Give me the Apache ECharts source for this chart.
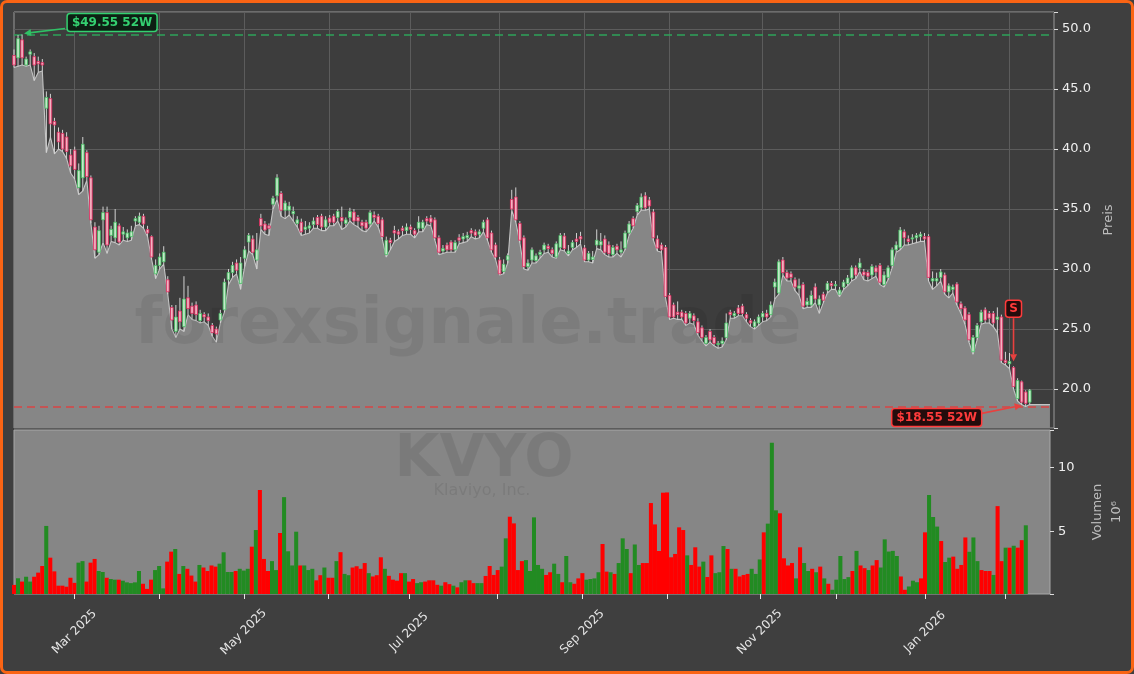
<!DOCTYPE html>
<html>
<head>
<meta charset="utf-8">
<title>KVYO</title>
<script src="https://cdn.jsdelivr.net/npm/echarts@6/dist/echarts.min.js"></script>
<style>
  html, body { margin: 0; padding: 0; background: #3f3f3f; }
  #chart { position: absolute; left: 0; top: 0; width: 1134px; height: 674px; }
  #frame { position: absolute; left: 0; top: 0; width: 1134px; height: 674px; box-sizing: border-box;
           border: 3px solid #fa6414; border-radius: 7px; pointer-events: none; }
</style>
</head>
<body>
<div id="chart"></div>
<div id="frame"></div>
<script>
// trading calendar
var startDate = '2025-02-07';
var holidays = ['2025-02-17', '2025-04-18', '2025-05-26', '2025-06-19', '2025-07-04',
  '2025-09-01', '2025-11-27', '2025-12-25', '2026-01-01', '2026-01-19'];
var monthNames = ['Jan', 'Feb', 'Mar', 'Apr', 'May', 'Jun', 'Jul', 'Aug', 'Sep', 'Oct', 'Nov', 'Dec'];

// daily prices (USD)
var opens = [
  47.8, 47.6, 49.1, 47.0, 47.9, 47.7, 47.3, 47.2, 43.4, 44.2,
  42.3, 41.4, 41.3, 41.0, 39.5, 39.9, 36.8, 37.6, 39.7, 37.6,
  33.5, 31.4, 34.1, 34.7, 32.8, 32.6, 33.6, 32.9, 32.6, 32.7,
  34.0, 33.9, 34.4, 33.3, 32.7, 29.6, 30.3, 30.6, 29.1, 26.8,
  24.8, 26.5, 25.2, 27.6, 26.9, 27.0, 25.7, 26.2, 26.0, 25.3,
  25.0, 25.75, 26.6, 29.1, 29.7, 30.5, 28.8, 30.9, 32.25, 32.5,
  30.75, 34.2, 33.75, 33.6, 35.4, 36.1, 36.3, 34.9, 34.9, 34.6,
  33.8, 33.9, 33.3, 33.4, 33.7, 34.3, 34.4, 33.5, 34.25, 34.4,
  34.3, 34.3, 33.8, 34.3, 34.75, 34.3, 33.9, 33.9, 33.75, 34.5,
  34.4, 34.1, 31.2, 32.4, 33.2, 33.1, 33.4, 33.2, 33.5, 33.2,
  33.4, 33.4, 34.2, 34.25, 34.1, 32.6, 31.5, 32.0, 32.25, 31.6,
  32.6, 32.5, 32.6, 33.2, 33.1, 32.9, 33.4, 34.1, 33.0, 32.0,
  30.75, 29.8, 30.75, 35.8, 36.0, 33.8, 32.6, 30.2, 30.75, 30.7,
  31.2, 31.6, 31.9, 31.6, 31.0, 31.8, 32.75, 31.3, 31.8, 32.5,
  32.7, 31.75, 30.75, 30.8, 32.0, 32.0, 32.5, 32.0, 31.2, 31.9,
  31.4, 31.75, 33.0, 34.2, 34.8, 35.1, 36.1, 35.75, 34.75, 32.5,
  32.0, 31.8, 27.8, 27.0, 26.4, 26.4, 26.3, 25.9, 26.1, 25.6,
  25.1, 23.8, 24.8, 24.3, 23.7, 23.8, 24.3, 26.4, 26.1, 26.75,
  26.9, 26.2, 25.7, 25.2, 25.5, 26.0, 26.3, 26.2, 28.5, 28.0,
  30.75, 29.7, 29.6, 29.1, 28.4, 28.7, 27.0, 27.0, 28.5, 27.0,
  27.9, 28.25, 28.8, 28.6, 27.9, 28.5, 28.8, 29.25, 30.1, 30.1,
  29.75, 29.7, 29.5, 30.1, 30.3, 28.7, 29.3, 30.3, 31.6, 31.8,
  33.1, 32.5, 32.5, 32.6, 32.7, 32.7, 32.7, 29.0, 29.0, 29.3,
  29.5, 28.1, 28.3, 28.75, 27.1, 26.75, 26.2, 23.1, 24.3, 25.6,
  26.6, 26.3, 26.3, 25.8, 26.0, 22.4, 22.1, 21.8, 19.2, 20.6,
  19.75, 18.9
];
var closes = [
  47.0, 49.2, 47.6, 47.5, 48.1, 47.0, 47.1, 47.0, 44.3, 42.1,
  42.0, 40.6, 40.0, 39.8, 38.6, 38.3, 38.2, 40.4, 37.7, 34.1,
  31.6, 33.2, 34.7, 32.0, 33.3, 33.9, 32.25, 33.1, 33.0, 33.1,
  34.2, 34.4, 33.75, 33.0, 31.0, 30.3, 31.0, 31.4, 28.1, 25.75,
  26.0, 25.6, 27.5, 26.7, 26.3, 26.2, 26.3, 26.0, 25.7, 24.7,
  24.6, 26.3, 28.9, 29.7, 30.3, 29.9, 30.5, 31.6, 32.8, 31.4,
  31.6, 33.6, 33.25, 33.4, 35.9, 37.6, 34.9, 35.5, 35.25, 34.8,
  34.1, 33.1, 33.5, 33.6, 34.0, 33.7, 33.5, 34.1, 33.9, 33.9,
  34.8, 34.0, 34.1, 34.8, 34.0, 34.0, 33.6, 33.4, 34.7, 34.3,
  33.8, 32.7, 32.4, 32.2, 33.0, 32.9, 33.2, 33.5, 33.3, 32.9,
  33.9, 33.9, 34.0, 33.9, 32.6, 31.4, 31.7, 31.6, 31.6, 32.2,
  32.4, 32.7, 32.8, 33.0, 32.8, 33.1, 33.9, 32.6, 31.6, 31.0,
  29.6, 30.4, 31.1, 35.0, 34.1, 32.4, 30.2, 30.5, 31.6, 31.1,
  31.4, 32.0, 31.7, 31.3, 32.1, 32.8, 31.7, 31.5, 32.2, 32.3,
  32.5, 30.75, 31.3, 31.0, 32.4, 32.3, 31.4, 31.3, 31.8, 31.6,
  31.6, 33.0, 33.75, 33.6, 35.3, 36.0, 35.1, 35.25, 32.6, 31.75,
  31.6, 27.7, 26.0, 26.0, 26.2, 26.0, 25.5, 26.3, 25.7, 24.7,
  24.3, 24.3, 24.1, 23.8, 23.8, 24.0, 25.5, 26.2, 26.3, 26.3,
  26.3, 25.9, 25.5, 25.6, 26.0, 26.3, 26.0, 27.0, 28.9, 30.6,
  29.7, 29.25, 29.3, 28.5, 28.6, 26.9, 27.3, 27.8, 27.5, 27.5,
  27.4, 28.8, 28.6, 28.7, 28.25, 28.9, 29.25, 30.1, 29.5, 30.5,
  29.5, 29.4, 30.2, 29.75, 28.9, 29.5, 30.1, 31.6, 32.0, 33.25,
  32.6, 32.3, 32.6, 32.8, 32.9, 32.5, 29.3, 29.2, 29.2, 29.75,
  28.1, 28.6, 28.5, 27.25, 26.7, 25.75, 24.1, 24.3, 25.3, 26.4,
  25.75, 25.9, 25.5, 26.0, 22.4, 22.2, 22.3, 20.2, 20.7, 18.9,
  18.8, 19.9
];
var lows = [
  46.8, 46.9, 47.0, 46.9, 47.0, 45.7, 46.4, 46.5, 39.7, 41.0,
  39.6, 40.0, 39.8, 39.2, 38.0, 37.5, 36.2, 36.5, 37.4, 33.8,
  30.9, 31.2, 32.2, 31.3, 32.3, 32.2, 32.0, 32.4, 32.3, 32.4,
  33.6, 33.7, 33.4, 32.7, 30.8, 29.2, 30.0, 30.4, 27.9, 25.0,
  24.3, 25.0, 24.8, 26.2, 25.8, 25.7, 25.5, 25.6, 25.3, 24.4,
  23.9, 25.5, 26.4, 28.7, 29.3, 29.6, 28.3, 30.2, 31.5, 31.2,
  30.0, 33.3, 32.9, 32.8, 35.0, 35.8, 34.4, 34.2, 34.5, 34.0,
  33.5, 32.8, 32.9, 33.0, 33.4, 33.4, 33.2, 33.2, 33.6, 33.6,
  34.0, 33.3, 33.5, 34.0, 33.7, 33.5, 33.2, 33.1, 33.5, 34.0,
  33.5, 32.5, 31.0, 31.6, 32.3, 32.5, 32.8, 32.9, 32.9, 32.6,
  33.1, 33.1, 33.7, 33.6, 32.4, 31.2, 31.3, 31.4, 31.4, 31.4,
  32.1, 32.2, 32.3, 32.7, 32.5, 32.6, 33.1, 32.4, 31.4, 30.8,
  29.5, 29.6, 30.5, 34.9, 33.9, 32.2, 30.0, 29.9, 30.5, 30.5,
  30.9, 31.3, 31.4, 31.0, 30.9, 31.6, 31.5, 31.1, 31.6, 31.8,
  32.1, 30.6, 30.6, 30.5, 31.7, 31.6, 31.2, 31.0, 31.0, 31.3,
  31.0, 31.6, 32.8, 33.4, 34.5, 34.9, 34.9, 35.0, 32.4, 31.5,
  31.4, 27.6, 25.8, 25.9, 25.8, 25.8, 25.3, 25.5, 25.4, 24.5,
  24.0, 23.6, 23.9, 23.6, 23.4, 23.5, 24.1, 25.9, 25.9, 26.1,
  26.1, 25.6, 25.2, 25.0, 25.3, 25.6, 25.7, 26.0, 27.5, 27.9,
  29.5, 29.0, 29.0, 28.2, 27.8, 26.7, 26.8, 26.8, 27.2, 26.3,
  27.2, 28.0, 28.3, 28.3, 27.7, 28.3, 28.6, 29.0, 29.2, 29.8,
  29.1, 29.0, 29.2, 29.4, 28.7, 28.5, 29.1, 30.1, 31.4, 31.6,
  32.0, 32.0, 32.1, 32.2, 32.3, 32.3, 29.0, 28.3, 28.6, 29.0,
  27.9, 27.6, 28.0, 27.0, 26.3, 25.4, 23.9, 22.9, 24.1, 25.4,
  25.5, 25.5, 25.2, 24.7, 22.2, 22.0, 21.7, 20.0, 19.0, 18.7,
  18.55, 18.7
];
var highs = [
  48.3, 49.5, 49.55, 47.7, 48.3, 48.0, 47.7, 47.5, 44.8, 44.6,
  42.6, 41.8, 41.6, 41.4, 40.0, 40.2, 38.8, 41.0, 39.9, 37.8,
  33.9, 33.6, 35.2, 35.2, 33.6, 35.0, 33.8, 33.5, 33.3, 33.6,
  34.4, 34.7, 34.6, 33.6, 32.8, 30.8, 31.3, 31.9, 29.4, 27.0,
  27.0, 27.6, 29.4, 28.6, 27.2, 27.3, 26.6, 26.4, 26.3, 25.5,
  25.2, 26.6, 29.2, 30.0, 30.6, 30.8, 31.0, 31.9, 33.0, 32.8,
  33.0, 34.6, 34.0, 33.8, 36.1, 37.9, 36.5, 35.7, 35.6, 35.2,
  34.4, 34.2, 34.0, 33.9, 34.3, 34.5, 34.6, 34.4, 34.5, 34.6,
  35.0, 35.2, 34.3, 35.1, 35.0, 34.5, 34.1, 34.1, 34.9, 34.8,
  34.6, 34.3, 32.7, 32.6, 33.6, 33.3, 33.6, 33.8, 33.7, 33.4,
  34.4, 34.1, 34.4, 34.5, 34.3, 32.8, 32.0, 32.2, 32.4, 32.4,
  32.9, 33.0, 33.1, 33.4, 33.3, 33.3, 34.1, 34.3, 33.2, 32.2,
  31.0, 30.8, 31.3, 36.6, 36.8, 34.0, 32.8, 30.8, 31.8, 31.3,
  31.6, 32.2, 32.1, 31.8, 32.3, 33.0, 33.0, 32.0, 32.4, 33.0,
  33.1, 32.0, 31.5, 31.5, 33.3, 33.0, 32.8, 32.3, 32.0, 32.1,
  32.3, 33.2, 34.0, 34.4, 35.5, 36.3, 36.4, 36.0, 35.0, 32.8,
  32.2, 32.0, 28.0, 27.2, 27.3, 26.6, 26.5, 26.5, 26.3, 25.9,
  25.3, 24.5, 25.0, 24.5, 24.0, 24.3, 26.3, 26.6, 26.5, 27.0,
  27.1, 26.4, 25.9, 25.8, 26.2, 26.5, 26.6, 27.3, 29.2, 30.8,
  31.0, 29.9, 29.8, 29.3, 29.2, 28.9, 27.6, 28.2, 28.8, 27.8,
  28.1, 29.0, 29.0, 29.0, 28.5, 29.1, 29.5, 30.3, 30.3, 30.9,
  30.0, 29.9, 30.4, 30.3, 30.5, 29.8, 30.3, 31.8, 32.3, 33.5,
  33.3, 32.8, 32.9, 33.0, 33.1, 33.0, 32.9, 29.8, 29.7, 30.0,
  29.7, 28.8, 28.7, 28.9, 27.3, 26.9, 26.4, 24.5, 25.5, 26.6,
  26.8, 26.5, 26.5, 26.8, 26.2, 23.1, 23.0, 21.9, 20.9, 20.7,
  19.9, 20.0
];
// daily volume, millions of shares
var volumes = [
  0.84, 1.36, 1.1, 1.48, 1.1, 1.48, 1.8, 2.32, 5.45, 2.97,
  1.9, 0.78, 0.78, 0.7, 1.4, 1.0, 2.58, 2.7, 1.1, 2.58,
  2.87, 1.93, 1.85, 1.4, 1.3, 1.25, 1.25, 1.17, 1.04, 0.98,
  1.04, 1.93, 0.93, 0.53, 1.25, 2.0, 2.32, 0.57, 2.66, 3.44,
  3.65, 1.7, 2.32, 2.1, 1.57, 1.1, 2.4, 2.2, 1.93, 2.36,
  2.27, 2.5, 3.39, 1.85, 1.85, 1.93, 2.1, 1.96, 2.1, 3.83,
  5.13, 8.26, 2.87, 1.93, 2.7, 2.0, 4.9, 7.7, 3.47, 2.36,
  5.0, 2.36, 2.36, 2.0, 2.1, 1.2, 1.6, 2.2, 1.4, 1.4,
  2.7, 3.4, 1.7, 1.6, 2.2, 2.3, 2.1, 2.55, 1.76, 1.5,
  1.6, 3.0, 2.1, 1.55, 1.25, 1.17, 1.76, 1.76, 1.1, 1.3,
  0.98, 1.05, 1.1, 1.2, 1.2, 0.85, 0.78, 1.05, 0.9, 0.78,
  0.65, 1.05, 1.2, 1.2, 0.98, 0.98, 0.98, 1.54, 2.32, 1.62,
  2.0, 2.27, 4.48, 6.17, 5.65, 2.0, 2.7, 2.78, 1.93, 6.12,
  2.4, 2.1, 1.62, 1.83, 2.5, 1.7, 1.05, 3.1, 1.05, 0.93,
  1.35, 1.76, 1.25, 1.3, 1.35, 1.83, 4.04, 1.88, 1.83, 1.7,
  2.55, 4.48, 3.65, 1.76, 4.0, 2.4, 2.55, 2.55, 7.24, 5.57,
  3.49, 8.05, 8.07, 3.0, 3.26, 5.34, 5.13, 3.15, 2.4, 3.78,
  2.27, 2.66, 1.46, 3.15, 1.76, 1.83, 3.88, 3.65, 2.1, 2.1,
  1.5, 1.62, 1.7, 2.1, 1.7, 2.83, 4.95, 5.63, 11.95, 6.67,
  6.44, 2.92, 2.36, 2.55, 1.35, 3.78, 2.55, 1.93, 2.1, 1.83,
  2.27, 1.35, 0.93, 0.46, 1.25, 3.1, 1.3, 1.45, 1.93, 3.5,
  2.36, 2.15, 2.0, 2.36, 2.78, 2.2, 4.4, 3.45, 3.5, 3.1,
  1.5, 0.46, 0.72, 1.17, 1.05, 1.35, 4.95, 7.87, 6.15, 5.4,
  4.27, 2.63, 2.97, 3.05, 2.1, 2.4, 4.55, 3.43, 4.55, 2.7,
  2.0, 1.93, 1.93, 1.62, 7.0, 2.7, 3.75, 3.75, 3.9, 3.75,
  4.34, 5.5
];
var sellSignalIdx = 247;
var padSlots = 6;   // empty room after the last session

function tradingDays(start, n) {
  var out = [];
  var d = new Date(start + 'T00:00:00Z');
  while (out.length < n) {
    var s = d.toISOString().slice(0, 10);
    var wd = d.getUTCDay();
    if (wd !== 0 && wd !== 6 && holidays.indexOf(s) < 0) out.push(s);
    d.setUTCDate(d.getUTCDate() + 1);
  }
  return out;
}

var n = closes.length;
var dates = tradingDays(startDate, n);
var cats = dates.slice();
for (var p = 0; p < padSlots; p++) cats.push('pad' + p);

var monthStart = cats.map(function (c, i) {
  return i > 0 && i < n && dates[i].slice(0, 7) !== dates[i - 1].slice(0, 7);
});
function isMonthStart(idx) { return !!monthStart[idx]; }
// labels only every second month (Mar, May, Jul, ...)
function isLabelMonth(idx) { return !!monthStart[idx] && (+dates[idx].slice(5, 7)) % 2 === 1; }
function monthLabel(v) {
  if (v.indexOf('pad') === 0) return '';
  return monthNames[+v.slice(5, 7) - 1] + ' ' + v.slice(0, 4);
}

var candleData = closes.map(function (c, i) { return [i, opens[i], c, lows[i], highs[i]]; });
// the shaded low band runs a little past the last session, then stops
var areaData = lows.slice();
for (var q = 0; q < padSlots - 1; q++) areaData.push(lows[n - 1]);
areaData.push('-');
var volData = volumes.map(function (v, i) {
  return { value: v, itemStyle: { color: closes[i] >= opens[i] ? '#228b22' : '#ff0000' } };
});

var hi52 = Math.max.apply(null, highs), hiIdx = highs.indexOf(hi52);
var lo52 = Math.min.apply(null, lows), loIdx = lows.indexOf(lo52);

var FONT = '"DejaVu Sans", sans-serif';

function renderCandle(params, api) {
  var i = api.value(0), o = api.value(1), c = api.value(2), l = api.value(3), h = api.value(4);
  var pO = api.coord([i, o]), pC = api.coord([i, c]);
  var pL = api.coord([i, l]), pH = api.coord([i, h]);
  var w = api.size([1, 0])[0] * 0.66;
  var up = c >= o;
  var top = Math.min(pO[1], pC[1]), bot = Math.max(pO[1], pC[1]);
  return {
    type: 'group',
    children: [
      { type: 'line', shape: { x1: pH[0], y1: pH[1], x2: pL[0], y2: pL[1] },
        style: { stroke: '#d2d2d2', lineWidth: 1 } },
      { type: 'rect', shape: { x: pO[0] - w / 2, y: top, width: w, height: Math.max(bot - top, 1) },
        style: { fill: up ? '#c4e9ca' : '#f3b3c2', stroke: up ? '#44c062' : '#e0245a', lineWidth: 0.8 } }
    ]
  };
}

var chart = echarts.init(document.getElementById('chart'));

var option = {
  animation: false,
  backgroundColor: '#3f3f3f',
  textStyle: { fontFamily: FONT },
  grid: [
    { left: 14, right: 80, top: 12, height: 416, show: true,
      backgroundColor: '#3d3d3d', borderColor: '#9a9a9a', borderWidth: 1 },
    { left: 14, right: 80, top: 430, height: 164, show: true,
      backgroundColor: '#868686', borderColor: '#a8a8a8', borderWidth: 1 }
  ],
  xAxis: [
    { type: 'category', gridIndex: 0, data: cats, boundaryGap: false,
      axisLine: { show: false }, axisTick: { show: false }, axisLabel: { show: false },
      splitLine: { show: true, interval: isMonthStart, lineStyle: { color: '#5c5c5c', width: 1 } } },
    { type: 'category', gridIndex: 1, data: cats, boundaryGap: false,
      axisLine: { show: false },
      axisTick: { show: true, interval: isMonthStart, length: 5, lineStyle: { color: '#e6e6e6' } },
      axisLabel: { interval: isLabelMonth, rotate: 45, color: '#e6e6e6', fontSize: 12,
        fontFamily: FONT, margin: 38, align: 'center', verticalAlign: 'middle', formatter: monthLabel },
      splitLine: { show: false } }
  ],
  yAxis: [
    { type: 'value', gridIndex: 0, position: 'right', min: 16.75, max: 51.42,
      splitNumber: 7, minInterval: 5, maxInterval: 5,
      axisLine: { show: false },
      axisTick: { show: true, length: 4, lineStyle: { color: '#dddddd' } },
      axisLabel: { color: '#eeeeee', fontSize: 13, fontFamily: FONT, margin: 8,
        formatter: function (v) { return Math.abs(v / 5 - Math.round(v / 5)) < 1e-6 ? v.toFixed(1) : ''; } },
      splitLine: { show: true, lineStyle: { color: '#5c5c5c', width: 1 } },
      name: 'Preis', nameLocation: 'middle', nameRotate: 90, nameGap: 46,
      nameTextStyle: { color: '#bdbdbd', fontSize: 13, fontFamily: FONT } },
    { type: 'value', gridIndex: 1, position: 'right', min: 0.13, max: 12.95,
      splitNumber: 3, minInterval: 5, maxInterval: 5,
      axisLine: { show: false },
      axisTick: { show: true, length: 4, lineStyle: { color: '#dddddd' } },
      axisLabel: { color: '#eeeeee', fontSize: 13, fontFamily: FONT, margin: 8,
        formatter: function (v) { return Math.abs(v / 5 - Math.round(v / 5)) < 1e-6 ? String(Math.round(v)) : ''; } },
      splitLine: { show: false },
      name: 'Volumen\n10⁶', nameLocation: 'middle', nameRotate: 90, nameGap: 38,
      nameTextStyle: { color: '#bdbdbd', fontSize: 13, fontFamily: FONT, lineHeight: 19 } }
  ],
  series: [
    { name: 'lows', type: 'line', xAxisIndex: 0, yAxisIndex: 0, data: areaData,
      symbol: 'none', z: 2,
      lineStyle: { color: '#c4c4c4', width: 1.1 },
      areaStyle: { color: '#868686', opacity: 1, origin: 'start' },
      markLine: {
        silent: true, symbol: ['none', 'none'], label: { show: false },
        data: [
          { yAxis: hi52, lineStyle: { color: '#2ea35a', type: [8, 5], width: 1.5 } },
          { yAxis: lo52, lineStyle: { color: '#d94444', type: [8, 5], width: 1.5 } }
        ]
      } },
    { name: 'ohlc', type: 'custom', xAxisIndex: 0, yAxisIndex: 0, z: 5,
      data: candleData, encode: { x: 0, y: [1, 2, 3, 4] }, renderItem: renderCandle },
    { name: 'volume', type: 'bar', xAxisIndex: 1, yAxisIndex: 1, data: volData,
      barWidth: '100%', z: 2 }
  ]
};
chart.setOption(option);

// overlay: watermarks and the 52W / signal tags
function arrow(x1, y1, x2, y2, color) {
  var ang = Math.atan2(y2 - y1, x2 - x1), hl = 7, hw = 3.5;
  var bx = x2 - hl * Math.cos(ang), by = y2 - hl * Math.sin(ang);
  var px = -Math.sin(ang) * hw, py = Math.cos(ang) * hw;
  return [
    { type: 'line', z: 20, shape: { x1: x1, y1: y1, x2: bx, y2: by }, style: { stroke: color, lineWidth: 1.6 } },
    { type: 'polygon', z: 20, shape: { points: [[x2, y2], [bx + px, by + py], [bx - px, by - py]] }, style: { fill: color } }
  ];
}
function tagBox(x, y, w, h, text, color, fill) {
  return [
    { type: 'rect', z: 20, shape: { x: x, y: y, width: w, height: h, r: 3 },
      style: { fill: fill, stroke: color, lineWidth: 1.5 } },
    { type: 'text', z: 21, x: x + w / 2, y: y + h / 2,
      style: { text: text, fill: color, font: 'bold 12px ' + FONT, align: 'center', verticalAlign: 'middle' } }
  ];
}
function px(idx, val) {
  return chart.convertToPixel({ xAxisIndex: 0, yAxisIndex: 0 }, [cats[idx], val]);
}

var pHi = px(hiIdx, hi52);
var pLo = px(loIdx, lo52);
var pS = px(sellSignalIdx, highs[sellSignalIdx]);

var els = [
  { type: 'text', z: 3, x: 468, y: 326,
    style: { text: 'forexsignale.trade', fill: 'rgba(0,0,0,0.075)', font: 'bold 64px ' + FONT,
      align: 'center', verticalAlign: 'middle' } },
  { type: 'text', z: 3, x: 484, y: 461,
    style: { text: 'KVYO', fill: 'rgba(0,0,0,0.085)', font: 'bold 58px ' + FONT,
      align: 'center', verticalAlign: 'middle' } },
  { type: 'text', z: 3, x: 482, y: 491,
    style: { text: 'Klaviyo, Inc.', fill: 'rgba(0,0,0,0.085)', font: '16px ' + FONT,
      align: 'center', verticalAlign: 'middle' } }
];
els = els
  .concat(arrow(pHi[0] + 43, pHi[1] - 6, pHi[0] + 2, pHi[1] - 1, '#2fc065'))
  .concat(tagBox(pHi[0] + 45, pHi[1] - 21, 90, 18, '$' + hi52.toFixed(2) + ' 52W', '#34d070', '#0d1f13'))
  .concat(arrow(pLo[0] - 44, pLo[1] + 7, pLo[0] - 4, pLo[1] - 1, '#e8413f'))
  .concat(tagBox(pLo[0] - 134, pLo[1] + 2, 90, 18, '$' + lo52.toFixed(2) + ' 52W', '#ff3b3b', '#240c0c'))
  .concat(arrow(pS[0], pS[1] - 48, pS[0], pS[1] - 5, '#e8413f'))
  .concat(tagBox(pS[0] - 8, pS[1] - 66, 16, 17, 'S', '#ff3b3b', '#240c0c'));

chart.setOption({ graphic: { elements: els } });
</script>
</body>
</html>
